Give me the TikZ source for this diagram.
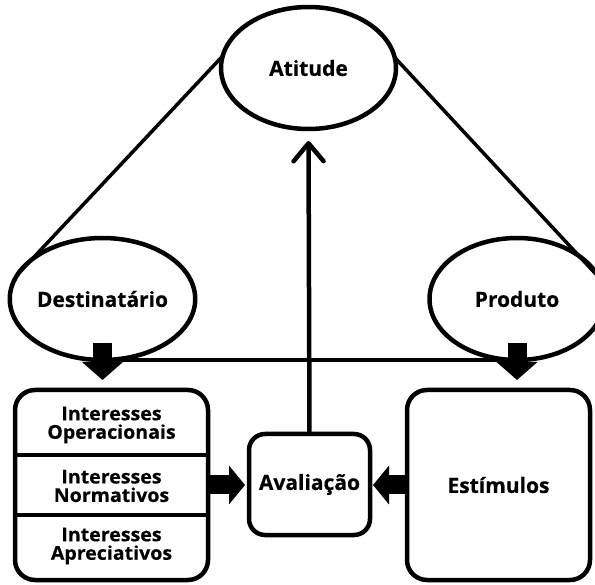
\documentclass[tikz,border=0pt]{standalone}
\usepackage{fontspec}
\setmainfont{Open Sans}
\newfontfamily\labelfont[FakeBold=0.4]{Open Sans}
\newfontfamily\boxfont[FakeStretch=1.03,FakeBold=0.4]{Open Sans}
\usetikzlibrary{arrows.meta,shapes.geometric}

\tikzset{
  oval/.style={ellipse, draw, line width=4.5pt, minimum width=175pt,
    minimum height=122pt, inner sep=0pt, outer sep=0pt,
    font=\labelfont\fontsize{21}{23}\selectfont\bfseries},
  panel/.style={draw, line width=4.5pt, rounded corners=20pt, inner sep=0pt,
    outer sep=0pt},
  label/.style={font=\labelfont\fontsize{21}{23}\selectfont\bfseries},
  small/.style={align=center, inner sep=0pt,
    font=\boxfont\fontsize{19}{18.5}\selectfont\bfseries},
  conn/.style={line width=3.5pt},
  divider/.style={line width=3.5pt},
  blockarr/.style={line width=19pt, -{Triangle[length=16pt,width=38pt]}},
  blockdown/.style={line width=19pt, -{Triangle[length=18pt,width=40pt]}},
  openarr/.style={line width=4.5pt, line cap=round,
    -{Straight Barb[length=18pt,width=30pt,round]}},
}

\begin{document}
\begin{tikzpicture}[x=1pt, y=-1pt]
  \useasboundingbox (0,0) rectangle (595,585);
  \clip (0,0) rectangle (595,585);

  % ovals
  \node[oval] (atitude) at (308.5,68) {Atitude};
  \node[oval] (dest) at (102.5,299) {Destinatário};
  \node[oval] (prod) at (517,299) {Produto};

  % boxes
  \node[panel, minimum width=193pt, minimum height=190pt] (lbox) at (111.5,485) {};
  \node[panel, rounded corners=16pt, minimum width=121pt, minimum height=101pt,
    label] (aval) at (309.5,484.5) {Avaliação};
  \node[panel, minimum width=183pt, minimum height=190pt, label] (estim)
    at (498.5,485) {Estímulos};

  % sections of the interest panel
  \coordinate (d1) at (15,455);
  \coordinate (d2) at (15,515);
  \draw[divider] (d1) -- (d1 -| lbox.east);
  \draw[divider] (d2) -- (d2 -| lbox.east);
  \node[small] (op) at (111.5,425) {Interesses\\Operacionais};
  \node[small] (no) at (111.5,486) {Interesses\\Normativos};
  \node[small] (ap) at (111.5,546) {Interesses\\Apreciativos};

  % triangle sides
  \draw[conn] (atitude.172.9) -- (dest.164.9);
  \draw[conn] (atitude.7.1) -- (prod.15.1);
  \draw[conn] (dest.south) -- (prod.south);

  % arrows
  \draw[blockdown] ([yshift=17pt]dest.south) -- ([yshift=10pt]dest.south |- lbox.north);
  \draw[blockdown] ([yshift=17pt]prod.south) -- ([yshift=10pt]prod.south |- estim.north);
  \draw[blockarr] (lbox.east) -- ([xshift=-4pt]aval.west |- lbox.east);
  \draw[blockarr] (estim.west) -- ([xshift=3pt]aval.east |- estim.west);
  \draw[openarr] (aval.north) -- ([yshift=-12pt]atitude.south);
\end{tikzpicture}
\end{document}
